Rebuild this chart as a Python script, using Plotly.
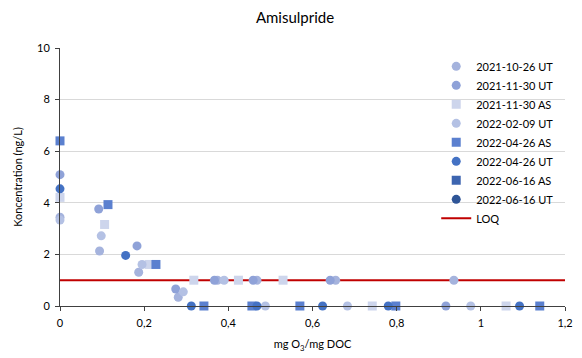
import plotly.graph_objects as go

# Data
series_names = ["2021-10-26 UT", "2021-11-30 UT", "2021-11-30 AS", "2022-02-09 UT",
                "2022-04-26 AS", "2022-04-26 UT", "2022-06-16 AS", "2022-06-16 UT"]

x_20211026_ut = [0, 0.094, 0.187, 0.281, 0.374, 0.468, 0.655, 0.936]
y_20211026_ut = [3.44, 2.13, 1.31, 0.34, 1, 1, 1, 1]

x_20211130_ut = [0, 0.092, 0.183, 0.275, 0.367, 0.459, 0.642, 0.917]
y_20211130_ut = [5.09, 3.76, 2.33, 0.66, 1, 1, 1, 0]

x_20211130_as = [0, 0.106, 0.212, 0.318, 0.424, 0.530, 0.742, 1.060]
y_20211130_as = [4.21, 3.16, 1.61, 1, 1, 1, 0, 0]

x_20220209_ut = [0, 0.098, 0.195, 0.293, 0.390, 0.488, 0.683, 0.976]
y_20220209_ut = [3.33, 2.72, 1.61, 0.55, 1, 0, 0, 0]

x_20220426_as = [0, 0.114, 0.228, 0.342, 0.456, 0.570, 0.798, 1.140]
y_20220426_as = [6.40, 3.93, 1.61, 0, 0, 0, 0, 0]

x_20220426_ut = [0, 0.156, 0.312, 0.468, 0.624, 0.780, 1.092]
y_20220426_ut = [4.54, 1.96, 0, 0, 0, 0, 0]

# no visible points for these series (legend entries only)
x_20220616_as = [None]
y_20220616_as = [None]

x_20220616_ut = [None]
y_20220616_ut = [None]

loq_x = [0, 1.2]
loq_y = [1, 1]

xs = [x_20211026_ut, x_20211130_ut, x_20211130_as, x_20220209_ut,
      x_20220426_as, x_20220426_ut, x_20220616_as, x_20220616_ut]
ys = [y_20211026_ut, y_20211130_ut, y_20211130_as, y_20220209_ut,
      y_20220426_as, y_20220426_ut, y_20220616_as, y_20220616_ut]
colors = ["#A5B3DD", "#8FA2D8", "#CDD5EC", "#B4C1E4",
          "#5B80CF", "#4472C4", "#3D65B0", "#2F5597"]
symbols = ["circle", "circle", "square", "circle",
           "square", "circle", "square", "circle"]

fig = go.Figure()

fig.add_trace(go.Scatter(x=loq_x, y=loq_y, mode="lines", name="LOQ",
                         line=dict(color="#C00000", width=2), legendrank=2000,
                         cliponaxis=False))

for i, name in enumerate(series_names):
    fig.add_trace(go.Scatter(
        x=xs[i], y=ys[i], mode="markers", name=name,
        marker=dict(symbol=symbols[i], color=colors[i], size=9,
                    line=dict(width=0)),
        cliponaxis=False, legendrank=1000 + i))

fig.update_layout(
    width=574, height=350,
    margin=dict(l=49, r=9, t=40, b=44),
    paper_bgcolor="white", plot_bgcolor="white",
    font=dict(family="Lato, Carlito, Calibri, sans-serif", size=11, color="#404040"),
    separators=", ",
    title=dict(text="Amisulpride", x=0.5, xref="container", xanchor="center",
               y=1 - 10 / 350, yref="container", yanchor="middle",
               font=dict(size=15, color="#000000")),
    showlegend=True,
    legend=dict(x=0.745, y=0.985, xanchor="left", yanchor="top",
                bgcolor="rgba(0,0,0,0)", font=dict(size=11, color="#000000"),
                itemwidth=30, tracegroupgap=0),
    xaxis=dict(range=[0, 1.2], dtick=0.2, tick0=0, showgrid=False,
               showline=True, linecolor="#404040", linewidth=1,
               ticks="outside", ticklen=4, tickcolor="#404040",
               zeroline=False, ticklabelstandoff=3,
               title=dict(text="mg O<sub>3</sub>/mg DOC", font=dict(size=11, color="#000000"),
                          standoff=12),
               tickfont=dict(size=11, color="#000000")),
    yaxis=dict(range=[0, 10], dtick=2, tick0=0, showgrid=True, gridcolor="#D9D9D9",
               gridwidth=1, showline=True, linecolor="#404040", linewidth=1,
               ticks="outside", ticklen=4, tickcolor="#404040", zeroline=False,
               ticklabelstandoff=3,
               title=dict(text="Koncentration (ng/L)", font=dict(size=11, color="#000000"),
                          standoff=12),
               tickfont=dict(size=11, color="#000000")),
)

fig.write_html("out.html")
